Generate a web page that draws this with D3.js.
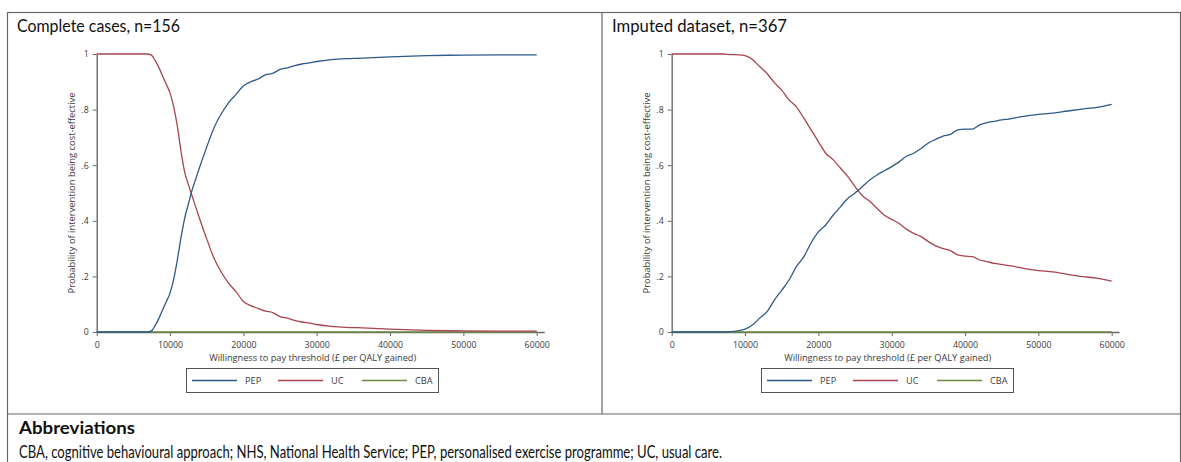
<!DOCTYPE html>
<html>
<head>
<meta charset="utf-8">
<script src="https://cdn.jsdelivr.net/npm/d3@7"></script>
<style>
  html, body { margin: 0; padding: 0; background: #fff; }
  svg { display: block; }
</style>
</head>
<body>
<svg id="chart" width="1181" height="462"></svg>
<script>
// ---------------- DATA ----------------
const panelTitles = ["Complete cases, n=156", "Imputed dataset, n=367"];
const seriesNames = ["PEP", "UC", "CBA"];
const xTicks = [0, 10000, 20000, 30000, 40000, 50000, 60000];
const yTicks = [0, 0.2, 0.4, 0.6, 0.8, 1];
const yTickLabels = ["0", ".2", ".4", ".6", ".8", "1"];
const xTitle = "Willingness to pay threshold (£ per QALY gained)";
const yTitle = "Probability of intervention being cost-effective";
const abbrevTitle = "Abbreviations";
const abbrevText = "CBA, cognitive behavioural approach; NHS, National Health Service; PEP, personalised exercise programme; UC, usual care.";

// Complete cases
const ccWTP = [0, 7000, 7500, 8000, 8500, 9000, 9500, 10000, 10500, 11000, 11500, 12000, 12500, 13000, 13500, 14000, 15000, 16000, 17000, 18000, 19000, 20000, 21000, 22000, 23000, 24000, 25000, 26000, 27000, 28000, 29000, 30000, 32000, 35000, 40000, 45000, 50000, 55000, 60000];
const ccPEP = [0, 0, 0.005, 0.025, 0.05, 0.08, 0.11, 0.14, 0.19, 0.26, 0.34, 0.41, 0.46, 0.51, 0.55, 0.59, 0.665, 0.735, 0.785, 0.825, 0.855, 0.885, 0.9, 0.91, 0.925, 0.93, 0.945, 0.95, 0.958, 0.964, 0.968, 0.973, 0.98, 0.984, 0.99, 0.994, 0.996, 0.997, 0.997];
const ccUC  = [1, 1, 0.995, 0.975, 0.95, 0.92, 0.89, 0.86, 0.81, 0.74, 0.65, 0.575, 0.53, 0.49, 0.45, 0.41, 0.335, 0.265, 0.215, 0.175, 0.145, 0.11, 0.095, 0.085, 0.075, 0.07, 0.055, 0.05, 0.042, 0.036, 0.032, 0.027, 0.02, 0.016, 0.01, 0.006, 0.004, 0.003, 0.003];
const ccCBA = [0, 0, 0, 0, 0, 0, 0, 0, 0, 0, 0, 0, 0, 0, 0, 0, 0, 0, 0, 0, 0, 0, 0, 0, 0, 0, 0, 0, 0, 0, 0, 0, 0, 0, 0, 0, 0, 0, 0];

// Imputed dataset
const imWTP = [0, 7000, 8000, 9000, 10000, 11000, 12000, 13000, 14000, 15000, 16000, 17000, 18000, 19000, 20000, 21000, 22000, 23000, 24000, 25000, 26000, 27000, 28000, 29000, 30000, 31000, 32000, 33000, 34000, 35000, 36000, 37000, 38000, 39000, 40000, 41000, 42000, 43000, 44000, 45000, 46000, 47000, 48000, 50000, 52000, 54000, 56000, 58000, 60000];
const imPEP = [0, 0, 0.001, 0.004, 0.01, 0.025, 0.05, 0.073, 0.115, 0.15, 0.187, 0.235, 0.27, 0.32, 0.36, 0.385, 0.42, 0.45, 0.48, 0.5, 0.523, 0.547, 0.565, 0.58, 0.595, 0.612, 0.632, 0.643, 0.66, 0.68, 0.693, 0.705, 0.711, 0.727, 0.73, 0.73, 0.745, 0.753, 0.758, 0.763, 0.766, 0.771, 0.776, 0.783, 0.787, 0.795, 0.802, 0.808, 0.819];
const imUC  = [1, 1, 0.998, 0.997, 0.994, 0.98, 0.955, 0.93, 0.897, 0.87, 0.835, 0.81, 0.77, 0.727, 0.685, 0.643, 0.62, 0.59, 0.56, 0.523, 0.49, 0.47, 0.445, 0.42, 0.405, 0.39, 0.37, 0.355, 0.343, 0.325, 0.31, 0.3, 0.293, 0.277, 0.273, 0.271, 0.259, 0.253, 0.247, 0.243, 0.239, 0.234, 0.229, 0.221, 0.216, 0.207, 0.199, 0.194, 0.183];
const imCBA = [0, 0, 0, 0, 0, 0, 0, 0, 0, 0, 0, 0, 0, 0, 0, 0, 0, 0, 0, 0, 0, 0, 0, 0, 0, 0, 0, 0, 0, 0, 0, 0, 0, 0, 0, 0, 0, 0, 0, 0, 0, 0, 0, 0, 0, 0, 0, 0, 0];

const panels = [
  { wtp: ccWTP, series: [ccPEP, ccUC, ccCBA] },
  { wtp: imWTP, series: [imPEP, imUC, imCBA] }
];

// ---------------- STYLE / LAYOUT ----------------
const colors = ["#2e5a8a", "#a8444c", "#6b8a45"];
const axisColor = "#6a6a6a";
const textColor = "#3a3a3a";
const frameColor = "#666";
const titleFont = "Lato, 'Open Sans', sans-serif";
const smallFont = "'Open Sans', 'DejaVu Sans', sans-serif";
const tickSize = 8.8;

const svg = d3.select("#chart");

// Outer frame and dividers
const frame = { x0: 7, y0: 12, x1: 1180, y1: 470, divX: 602, divY: 414 };
svg.append("rect").attr("x", frame.x0 + 0.5).attr("y", frame.y0 + 0.5)
  .attr("width", frame.x1 - frame.x0).attr("height", frame.y1 - frame.y0)
  .attr("fill", "none").attr("stroke", frameColor).attr("stroke-width", 1.2);
svg.append("line").attr("x1", frame.divX).attr("x2", frame.divX)
  .attr("y1", frame.y0).attr("y2", frame.divY)
  .attr("stroke", frameColor).attr("stroke-width", 1.2);
svg.append("line").attr("x1", frame.x0).attr("x2", frame.x1)
  .attr("y1", frame.divY).attr("y2", frame.divY)
  .attr("stroke", frameColor).attr("stroke-width", 1.2);

const panelLayout = [
  { titleX: 17, titleW: 163, plotX0: 96.7, plotX1: 536.7, legendX: 186 },
  { titleX: 612, titleW: 175, plotX0: 671.7, plotX1: 1111.7, legendX: 761 }
];
const plotY0 = 54, plotY1 = 332;

panels.forEach((p, i) => {
  const L = panelLayout[i];
  const g = svg.append("g");

  g.append("text").attr("x", L.titleX).attr("y", 32)
    .attr("font-family", titleFont).attr("font-size", 16.5).attr("fill", "#111")
    .attr("textLength", L.titleW).attr("lengthAdjust", "spacingAndGlyphs")
    .text(panelTitles[i]);

  const x = d3.scaleLinear().domain([0, 60000]).range([L.plotX0, L.plotX1]);
  const y = d3.scaleLinear().domain([0, 1]).range([plotY1, plotY0]);

  // X axis
  const xAxis = d3.axisBottom(x).tickValues(xTicks).tickFormat(d3.format("d")).tickSize(4).tickSizeOuter(0);
  const gx = g.append("g").attr("transform", `translate(0,${plotY1})`).call(xAxis);
  gx.select(".domain").remove();
  gx.append("line").attr("x1", L.plotX0).attr("x2", L.plotX1 + 8).attr("y1", 0.5).attr("y2", 0.5)
    .attr("stroke", axisColor).attr("stroke-width", 1.4);
  gx.selectAll(".tick line").attr("stroke", axisColor);
  gx.selectAll(".tick text").attr("font-family", smallFont).attr("font-size", tickSize)
    .attr("fill", textColor).attr("dy", null).attr("y", 15.5);

  // Y axis
  const yAxis = d3.axisLeft(y).tickValues(yTicks).tickFormat((d, k) => yTickLabels[k]).tickSize(4).tickSizeOuter(0);
  const gy = g.append("g").attr("transform", `translate(${L.plotX0},0)`).call(yAxis);
  gy.select(".domain").attr("stroke", axisColor).attr("stroke-width", 1.4);
  gy.selectAll(".tick line").attr("stroke", axisColor);
  gy.selectAll(".tick text").attr("font-family", smallFont).attr("font-size", tickSize)
    .attr("fill", textColor).attr("x", -8);

  // Axis titles
  g.append("text").attr("x", (L.plotX0 + L.plotX1) / 2 - 4).attr("y", plotY1 + 28.5)
    .attr("text-anchor", "middle").attr("font-family", smallFont).attr("font-size", 9.2)
    .attr("fill", textColor).text(xTitle);
  g.append("text")
    .attr("transform", `translate(${L.plotX0 - 22},${(plotY0 + plotY1) / 2}) rotate(-90)`)
    .attr("text-anchor", "middle").attr("font-family", smallFont).attr("font-size", 9.4)
    .attr("fill", textColor).text(yTitle);

  // Lines (CBA first so it sits under others)
  const order = [2, 1, 0];
  order.forEach(s => {
    const pts = p.wtp.map((w, k) => [w, p.series[s][k]]);
    const line = d3.line().x(d => x(d[0])).y(d => y(d[1])).curve(d3.curveMonotoneX);
    g.append("path").datum(pts).attr("d", line)
      .attr("fill", "none").attr("stroke", colors[s]).attr("stroke-width", 1.3)
      .attr("stroke-linejoin", "round");
  });

  // Legend
  const lg = g.append("g").attr("transform", `translate(${L.legendX},368)`);
  lg.append("rect").attr("x", 0.5).attr("y", 0.5).attr("width", 252).attr("height", 24)
    .attr("fill", "#fff").attr("stroke", "#555").attr("stroke-width", 1);
  const itemX = [6, 92, 176];
  seriesNames.forEach((n, s) => {
    lg.append("line").attr("x1", itemX[s]).attr("x2", itemX[s] + 45)
      .attr("y1", 12.5).attr("y2", 12.5).attr("stroke", colors[s]).attr("stroke-width", 1.3);
    lg.append("text").attr("x", itemX[s] + 53).attr("y", 12.5).attr("dy", "0.35em")
      .attr("font-family", smallFont).attr("font-size", 9.2).attr("fill", textColor).text(n);
  });
});

// Abbreviations
svg.append("text").attr("x", 19).attr("y", 434)
  .attr("font-family", titleFont).attr("font-size", 16.5).attr("font-weight", "bold")
  .attr("textLength", 116).attr("lengthAdjust", "spacingAndGlyphs")
  .attr("fill", "#111").text(abbrevTitle);
svg.append("text").attr("x", 19).attr("y", 458)
  .attr("font-family", titleFont).attr("font-size", 16.5)
  .attr("textLength", 703).attr("lengthAdjust", "spacingAndGlyphs")
  .attr("fill", "#111").text(abbrevText);
</script>
</body>
</html>
